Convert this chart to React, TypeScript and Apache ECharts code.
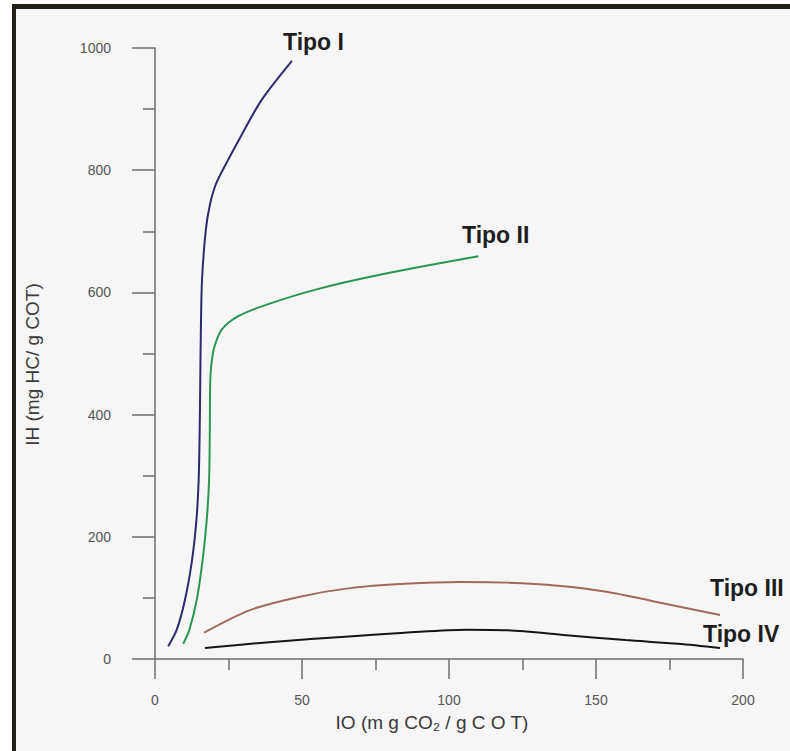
import React, { useEffect, useRef } from "react";
import * as echarts from "echarts";

const xTicks = [0, 50, 100, 150, 200];
const yTicks = [0, 200, 400, 600, 800, 1000];

const tipoIX = [4.5, 7.4, 10.2, 12.6, 14.1, 14.85, 15.2, 15.4, 15.6, 16.0, 17.3, 18.7, 20.7, 24.1, 29.6, 36.4, 46.6];
const tipoIY = [21, 48, 97, 162, 228, 293, 375, 457, 539, 621, 703, 744, 777, 810, 859, 916, 979];

const tipoIIX = [9.6, 11.7, 14.2, 16.2, 17.6, 18.4, 18.65, 18.8, 19.3, 20.2, 22.7, 28.3, 38, 55, 77.7, 110];
const tipoIIY = [25, 48, 97, 162, 228, 293, 375, 457, 487, 511, 539, 561, 580, 605, 630, 659];

const tipoIIIX = [16.7, 32.3, 49.3, 66.3, 85, 103.7, 120, 137, 153.6, 176, 192.2];
const tipoIIIY = [43, 80, 102, 116, 123, 126, 125, 120, 110, 88, 72];

const tipoIVX = [17, 40, 66, 85, 106, 120, 140, 160, 178, 192.2];
const tipoIVY = [18, 28, 37, 43, 48, 47, 39, 31, 25, 18];

const seriesNames = ["Tipo I", "Tipo II", "Tipo III", "Tipo IV"];
const seriesColors = ["#2c2a6c", "#2a9655", "#a06a5e", "#151515"];

const pairs = (xs: number[], ys: number[]) => xs.map((x, i) => [x, ys[i]]);

export default function App() {
  const ref = useRef<HTMLDivElement>(null);
  useEffect(() => {
    if (!ref.current) return;
    const chart = echarts.init(ref.current, undefined, { renderer: "svg" });
    const font = "Liberation Sans, Arial, sans-serif";
    const axisColor = "#6e6e6e";
    const data = [
      pairs(tipoIX, tipoIY),
      pairs(tipoIIX, tipoIIY),
      pairs(tipoIIIX, tipoIIIY),
      pairs(tipoIVX, tipoIVY),
    ];
    const labelPos = [
      [283, 42],
      [462, 235],
      [710, 588],
      [703, 634],
    ];
    chart.setOption({
      animation: false,
      backgroundColor: "#ffffff",
      graphic: [
        { type: "rect", shape: { x: 16, y: 9, width: 780, height: 750 }, style: { fill: "#f6f6f6" }, z: -10 },
        { type: "rect", shape: { x: 12, y: 4, width: 790, height: 5 }, style: { fill: "#232019" }, z: -5 },
        { type: "rect", shape: { x: 12, y: 4, width: 4, height: 760 }, style: { fill: "#232019" }, z: -5 },
        ...seriesNames.map((n, i) => ({
          type: "text",
          x: labelPos[i][0],
          y: labelPos[i][1],
          style: {
            text: n,
            fontFamily: font,
            fontSize: 23,
            fontWeight: "bold",
            fill: "#1e1e1e",
            textAlign: "left",
            textVerticalAlign: "middle",
          },
          z: 10,
        })),
      ],
      grid: { left: 155, right: 47, top: 48, bottom: 92, containLabel: false },
      xAxis: {
        type: "value",
        min: xTicks[0],
        max: xTicks[xTicks.length - 1],
        interval: 50,
        name: "IO (m g CO₂ / g C O T)",
        nameLocation: "middle",
        nameGap: 54,
        nameTextStyle: { fontFamily: font, fontSize: 19, color: "#3a3a3a", padding: [0, 34, 0, 0] },
        axisLine: { show: true, lineStyle: { color: axisColor, width: 1.5 } },
        axisTick: { show: true, inside: false, length: 20, lineStyle: { color: axisColor, width: 1.5 } },
        minorTick: { show: true, splitNumber: 2, length: 11, lineStyle: { color: axisColor, width: 1.5 } },
        axisLabel: { fontFamily: font, fontSize: 14, color: "#555", margin: 34, formatter: (v: number) => String(v) },
        splitLine: { show: false },
      },
      yAxis: {
        type: "value",
        min: yTicks[0],
        max: yTicks[yTicks.length - 1],
        interval: 200,
        name: "IH (mg HC/ g COT)",
        nameLocation: "middle",
        nameGap: 113,
        nameTextStyle: { fontFamily: font, fontSize: 19, color: "#3a3a3a", padding: [0, 22, 0, 0] },
        axisLine: { show: true, lineStyle: { color: axisColor, width: 1.5 } },
        axisTick: { show: true, inside: false, length: 23, lineStyle: { color: axisColor, width: 1.5 } },
        minorTick: { show: true, splitNumber: 2, length: 12, lineStyle: { color: axisColor, width: 1.5 } },
        axisLabel: { fontFamily: font, fontSize: 14, color: "#555", margin: 44, formatter: (v: number) => String(v) },
        splitLine: { show: false },
      },
      series: seriesNames.map((n, i) => ({
        name: n,
        type: "line",
        data: data[i],
        smooth: 0.3,
        showSymbol: false,
        symbol: "none",
        lineStyle: { color: seriesColors[i], width: 2 },
        z: 5,
      })),
    });
    return () => chart.dispose();
  }, []);
  return (
    <div
      ref={ref}
      style={{ position: "fixed", left: 0, top: 0, width: 790, height: 751 }}
    />
  );
}
